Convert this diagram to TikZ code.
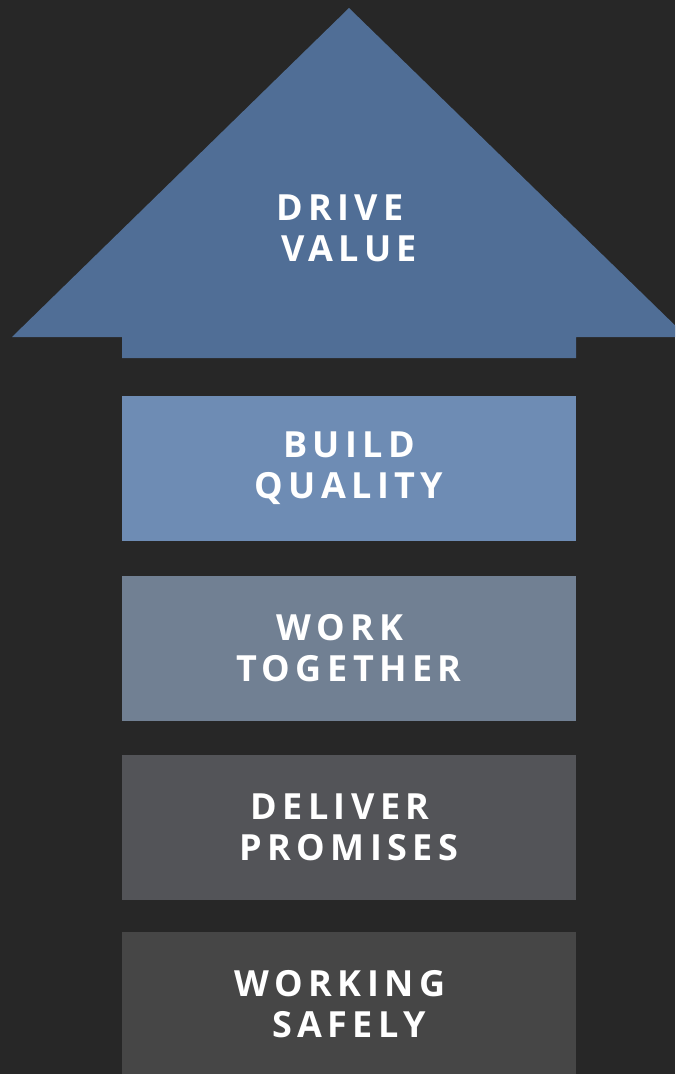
\documentclass[tikz,border=0pt]{standalone}
\usepackage{fontspec}
\setmainfont{Open Sans}[LetterSpace=15]
\usepackage{tikz}
\definecolor{pagebg}{HTML}{272727}
\definecolor{arrowblue}{HTML}{506E96}
\definecolor{qualityblue}{HTML}{6E8CB4}
\definecolor{togethergrey}{HTML}{718093}
\definecolor{promisegrey}{HTML}{535458}
\definecolor{safegrey}{HTML}{464646}
\tikzstyle{valuetext} = [text=white, align=center, font=\bfseries\fontsize{36}{41}\selectfont]
\tikzstyle{valuebox} = [valuetext, rectangle, minimum width=454pt, minimum height=145pt, inner sep=0pt]
\newcommand{\linetail}{\kern0.5em}

\begin{document}
\begin{tikzpicture}[x=1pt, y=-1pt]
\fill[pagebg] (0,0) rectangle (675,1074);
\clip (0,0) rectangle (675,1074);
% arrow head with its short stem
\fill[arrowblue] (349,8) -- (687,337) -- (576,337) -- (576,358)
    -- (122,358) -- (122,337) -- (12,337) -- cycle;
\node [valuetext] (drive) at (349,228) {DRIVE\linetail\\VALUE};
% the four steps below
\node [valuebox, fill=qualityblue] (quality) at (349,468.5) {BUILD\\QUALITY};
\node [valuebox, fill=togethergrey] (together) at (349,648.5) {WORK\linetail\\TOGETHER};
\node [valuebox, fill=promisegrey] (promises) at (349,827.5) {DELIVER\linetail\\PROMISES};
\node [valuebox, fill=safegrey] (safely) at (349,1004.5) {WORKING\linetail\\SAFELY};
\end{tikzpicture}
\end{document}
